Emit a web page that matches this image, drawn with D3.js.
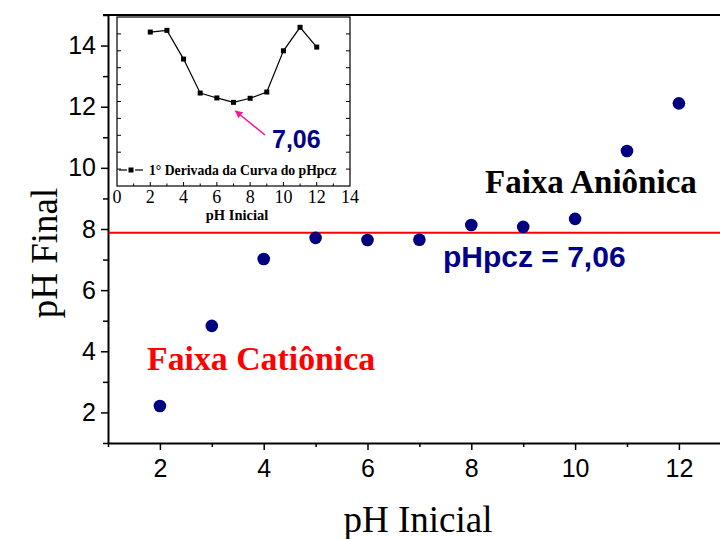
<!DOCTYPE html>
<html>
<head>
<meta charset="utf-8">
<script src="https://cdn.jsdelivr.net/npm/d3@7"></script>
<style>
  body { margin: 0; background: #fff; }
  svg { display: block; }
</style>
</head>
<body>
<div id="chart"></div>
<script>
// main series: pH inicial vs pH final
var phInicial = [2, 3, 4, 5, 6, 7, 8, 9, 10, 11, 12];
var phFinal = [2.21, 4.83, 7.02, 7.71, 7.64, 7.65, 8.13, 8.07, 8.33, 10.55, 12.11];
var pHpczLine = 7.88;

// inset: first derivative curve
var derivX = [2, 3, 4, 5, 6, 7, 8, 9, 10, 11, 12];
var derivY = [9.11, 9.21, 7.51, 5.50, 5.21, 4.95, 5.19, 5.56, 8.00, 9.39, 8.22];

var xTicks = [2, 4, 6, 8, 10, 12];
var yTicks = [2, 4, 6, 8, 10, 12, 14];
var insetTicks = [0, 2, 4, 6, 8, 10, 12, 14];

var width = 720, height = 539;

var svg = d3.select("#chart").append("svg")
    .attr("width", width)
    .attr("height", height);

var x = d3.scaleLinear().domain([1, 13]).range([108, 730.8]);
var y = d3.scaleLinear().domain([1, 15]).range([443, 15]);

// minor ticks
var xMinor = d3.range(1, 14, 1).filter(function(v) { return v % 2 === 1; });
var yMinor = d3.range(1, 16, 1).filter(function(v) { return v % 2 === 1; });

svg.append("g")
    .attr("transform", "translate(0," + y(1) + ")")
    .call(d3.axisBottom(x).tickValues(xMinor).tickSize(4).tickFormat(""))
    .call(function(g) { g.select(".domain").remove(); })
    .selectAll("line").attr("stroke-width", 1.5);

svg.append("g")
    .attr("transform", "translate(" + x(1) + ",0)")
    .call(d3.axisLeft(y).tickValues(yMinor).tickSize(5).tickFormat(""))
    .call(function(g) { g.select(".domain").remove(); })
    .selectAll("line").attr("stroke-width", 1.5);

var xAxis = svg.append("g")
    .attr("transform", "translate(0," + y(1) + ")")
    .call(d3.axisBottom(x).tickValues(xTicks).tickSize(7).tickPadding(9).tickSizeOuter(0));
xAxis.select(".domain").attr("stroke-width", 2);
xAxis.selectAll("line").attr("stroke-width", 1.5);
xAxis.selectAll("text")
    .attr("font-family", "Liberation Sans, Arial, sans-serif")
    .attr("font-size", "25px")
    .attr("fill", "#000");

var yAxis = svg.append("g")
    .attr("transform", "translate(" + x(1) + ",0)")
    .call(d3.axisLeft(y).tickValues(yTicks).tickSize(7).tickPadding(5).tickSizeOuter(0));
yAxis.select(".domain").attr("stroke-width", 2);
yAxis.selectAll("line").attr("stroke-width", 1.5);
yAxis.selectAll("text")
    .attr("font-family", "Liberation Sans, Arial, sans-serif")
    .attr("font-size", "25px")
    .attr("fill", "#000");

// top frame line
svg.append("line")
    .attr("x1", x(1) - 5).attr("x2", width)
    .attr("y1", y(15)).attr("y2", y(15))
    .attr("stroke", "#000").attr("stroke-width", 2);

// pHpcz line
svg.append("line")
    .attr("x1", x(1) + 1).attr("x2", width)
    .attr("y1", y(pHpczLine)).attr("y2", y(pHpczLine))
    .attr("stroke", "#ff0000").attr("stroke-width", 2);

// points
svg.selectAll("circle.pt")
    .data(phInicial)
    .enter().append("circle")
    .attr("class", "pt")
    .attr("cx", function(d) { return x(d); })
    .attr("cy", function(d, i) { return y(phFinal[i]); })
    .attr("r", 6.3)
    .attr("fill", "#000080");

// axis titles
svg.append("text")
    .attr("x", 418).attr("y", 532)
    .attr("text-anchor", "middle")
    .attr("font-family", "Liberation Serif, Times New Roman, serif")
    .attr("font-size", "37px")
    .text("pH Inicial");

svg.append("text")
    .attr("transform", "translate(57,253) rotate(-90)")
    .attr("text-anchor", "middle")
    .attr("font-family", "Liberation Serif, Times New Roman, serif")
    .attr("font-size", "37px")
    .text("pH Final");

// annotations
svg.append("text")
    .attr("x", 485).attr("y", 193)
    .attr("font-family", "Liberation Serif, Times New Roman, serif")
    .attr("font-weight", "bold")
    .attr("font-size", "33px")
    .text("Faixa Aniônica");

svg.append("text")
    .attr("x", 147).attr("y", 370)
    .attr("font-family", "Liberation Serif, Times New Roman, serif")
    .attr("font-weight", "bold")
    .attr("font-size", "33.8px")
    .attr("fill", "#ff0000")
    .text("Faixa Catiônica");

svg.append("text")
    .attr("x", 443).attr("y", 267)
    .attr("font-family", "Liberation Sans, Arial, sans-serif")
    .attr("font-weight", "bold")
    .attr("font-size", "30px")
    .attr("fill", "#00008b")
    .text("pHpcz = 7,06");

// ---- inset ----
var ix = d3.scaleLinear().domain([0, 14]).range([117, 350]);
var iy = d3.scaleLinear().domain([0, 10]).range([186, 17]);

var inset = svg.append("g");

inset.append("rect")
    .attr("x", ix(0)).attr("y", iy(10))
    .attr("width", ix(14) - ix(0)).attr("height", iy(0) - iy(10))
    .attr("fill", "#fff")
    .attr("stroke", "#000").attr("stroke-width", 1.2);

// inward ticks on left and right
var iyT = d3.range(1, 10, 1);
inset.selectAll("line.il")
    .data(iyT).enter().append("line")
    .attr("x1", ix(0)).attr("x2", ix(0) + 4)
    .attr("y1", function(d) { return iy(d); })
    .attr("y2", function(d) { return iy(d); })
    .attr("stroke", "#000");
inset.selectAll("line.ir")
    .data(iyT).enter().append("line")
    .attr("x1", ix(14)).attr("x2", ix(14) - 4)
    .attr("y1", function(d) { return iy(d); })
    .attr("y2", function(d) { return iy(d); })
    .attr("stroke", "#000");

// inward ticks on bottom
var ixMinor = d3.range(1, 14, 1);
inset.selectAll("line.ib")
    .data(ixMinor).enter().append("line")
    .attr("x1", function(d) { return ix(d); })
    .attr("x2", function(d) { return ix(d); })
    .attr("y1", iy(0)).attr("y2", function(d) { return iy(0) - (d % 2 === 0 ? 4 : 2.5); })
    .attr("stroke", "#000");

inset.selectAll("text.itl")
    .data(insetTicks).enter().append("text")
    .attr("class", "itl")
    .attr("x", function(d) { return ix(d); })
    .attr("y", 203)
    .attr("text-anchor", "middle")
    .attr("font-family", "Liberation Serif, Times New Roman, serif")
    .attr("font-size", "18px")
    .text(function(d) { return d; });

inset.append("text")
    .attr("x", 237).attr("y", 220)
    .attr("text-anchor", "middle")
    .attr("font-family", "Liberation Serif, Times New Roman, serif")
    .attr("font-weight", "bold")
    .attr("font-size", "14.5px")
    .text("pH Inicial");

var line = d3.line()
    .x(function(d) { return ix(d); })
    .y(function(d, i) { return iy(derivY[i]); });

inset.append("path")
    .datum(derivX)
    .attr("d", line)
    .attr("fill", "none")
    .attr("stroke", "#000")
    .attr("stroke-width", 1.2);

inset.selectAll("rect.sq")
    .data(derivX).enter().append("rect")
    .attr("class", "sq")
    .attr("x", function(d) { return ix(d) - 2.5; })
    .attr("y", function(d, i) { return iy(derivY[i]) - 2.5; })
    .attr("width", 5).attr("height", 5)
    .attr("fill", "#000");

// legend
inset.append("line")
    .attr("x1", 119).attr("x2", 127)
    .attr("y1", 170).attr("y2", 170)
    .attr("stroke", "#000").attr("stroke-width", 1.2);
inset.append("line")
    .attr("x1", 135).attr("x2", 143)
    .attr("y1", 170).attr("y2", 170)
    .attr("stroke", "#000").attr("stroke-width", 1.2);
inset.append("rect")
    .attr("x", 128.5).attr("y", 167.5).attr("width", 5).attr("height", 5)
    .attr("fill", "#000");
inset.append("text")
    .attr("x", 149).attr("y", 175)
    .attr("font-family", "Liberation Serif, Times New Roman, serif")
    .attr("font-weight", "bold")
    .attr("font-size", "13.7px")
    .text("1° Derivada da Curva do pHpcz");

// arrow to minimum
svg.append("defs").append("marker")
    .attr("id", "ah")
    .attr("viewBox", "0 0 10 10")
    .attr("refX", 9).attr("refY", 5)
    .attr("markerWidth", 5).attr("markerHeight", 5)
    .attr("orient", "auto")
    .append("path")
    .attr("d", "M0,0 L10,5 L0,10 z")
    .attr("fill", "#ff1493");

inset.append("line")
    .attr("x1", 265).attr("y1", 135)
    .attr("x2", ix(7) + 2).attr("y2", 111)
    .attr("stroke", "#ff1493").attr("stroke-width", 1.5)
    .attr("marker-end", "url(#ah)");

inset.append("text")
    .attr("x", 272).attr("y", 148)
    .attr("font-family", "Liberation Sans, Arial, sans-serif")
    .attr("font-weight", "bold")
    .attr("font-size", "25px")
    .attr("fill", "#00008b")
    .text("7,06");
</script>
</body>
</html>
